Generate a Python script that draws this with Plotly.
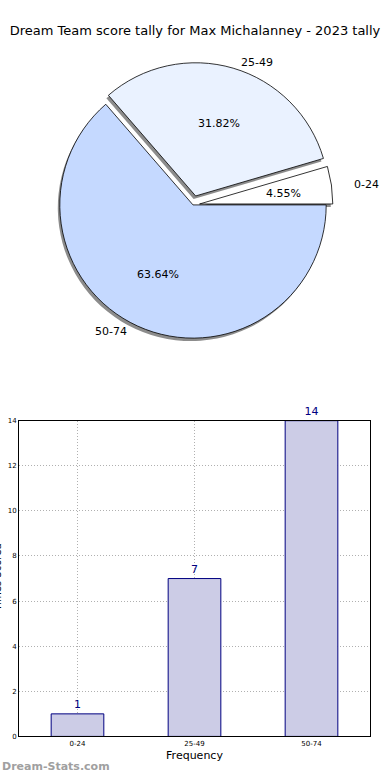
import math
import plotly.graph_objects as go

# ---- data ----
categories = ["0-24", "25-49", "50-74"]
counts = [1, 7, 14]
pie_colors = ["#FFFFFF", "#EAF2FF", "#C5D9FF"]
pie_pull = [0.05, 0.07, 0.0]
y_ticks = [0, 2, 4, 6, 8, 10, 12, 14]
title_text = "Dream Team score tally for Max Michalanney - 2023 tally"

W, H = 390, 780
FONT = "DejaVu Sans"


def px_domain(cx, cy, half):
    return dict(x=[(cx - half) / W, (cx + half) / W],
                y=[1 - (cy + half) / H, 1 - (cy - half) / H])


# pie drawn clockwise from 3 o'clock with reversed order == ccw from east
lab_r = categories[::-1]
val_r = counts[::-1]
col_r = pie_colors[::-1]
pull_r = pie_pull[::-1]

cx, cy, half = 193, 203, 144
common = dict(labels=lab_r, values=val_r, pull=pull_r, sort=False,
              direction="clockwise", rotation=90, showlegend=False,
              textinfo="none")

fig = go.Figure()

# shadow
fig.add_trace(go.Pie(**common,
                     marker=dict(colors=["rgba(120,120,120,0.85)"] * 3, line=dict(width=0)),
                     hoverinfo="skip",
                     domain=px_domain(cx - 2, cy + 3, half)))
# main pie
fig.add_trace(go.Pie(**common,
                     marker=dict(colors=col_r, line=dict(color="black", width=0.8)),
                     domain=px_domain(cx, cy, half)))

# text labels placed from the slice angles (percent at 0.6 r, label at 1.1 r)
rx, ry = 140, 128
total = sum(counts)
annotations = []
start = 0.0
for cat, v, pull in zip(categories, counts, pie_pull):
    span = 360.0 * v / total
    mid = math.radians(start + span / 2)
    c, s = math.cos(mid), math.sin(mid)
    ox, oy = cx + pull * rx * c, cy - pull * ry * s
    px_, py_ = ox + 0.6 * rx * c, oy - 0.6 * ry * s
    lx, ly = ox + 1.1 * rx * c, oy - 1.1 * ry * s
    annotations.append(dict(text=f"{100 * v / total:.2f}%", x=px_ / W, y=1 - py_ / H,
                            xanchor="center", yanchor="middle", xref="paper", yref="paper",
                            showarrow=False, font=dict(family=FONT, size=11, color="black")))
    annotations.append(dict(text=cat, x=lx / W, y=1 - ly / H,
                            xanchor="left" if c > 0 else "right", yanchor="middle",
                            xref="paper", yref="paper", showarrow=False,
                            font=dict(family=FONT, size=11, color="black")))
    start += span

# bar chart
fig.add_trace(go.Bar(x=categories, y=counts, width=0.45,
                     marker=dict(color="rgb(204,204,230)", line=dict(color="#000080", width=1)),
                     text=counts, textposition="outside", cliponaxis=False,
                     textfont=dict(family=FONT, size=11, color="#000080"),
                     showlegend=False, xaxis="x", yaxis="y"))

axis_common = dict(showgrid=True, gridcolor="#b0b0b0", griddash="1px,2px", gridwidth=1,
                   showline=True, mirror=True, linecolor="black", linewidth=1,
                   zeroline=False, tickfont=dict(family=FONT, size=7, color="black"))

annotations += [
    dict(text="Times Scored", textangle=-90, x=5 / W, xanchor="right",
         y=1 - 580 / H, yanchor="middle", xref="paper", yref="paper",
         showarrow=False, font=dict(family=FONT, size=10, color="black")),
    dict(text="<b>Dream-Stats.com</b>", x=0, xanchor="left", y=1 - 770 / H,
         yanchor="middle", xref="paper", yref="paper", showarrow=False,
         font=dict(family=FONT, size=11, color="#a0a0a0")),
]

fig.update_layout(
    width=W, height=H,
    margin=dict(l=0, r=0, t=0, b=0),
    paper_bgcolor="white", plot_bgcolor="white",
    font=dict(family=FONT, color="black"),
    title=dict(text=title_text, x=0.5, xanchor="center", y=1 - 30 / H, yanchor="middle",
               font=dict(family=FONT, size=13, color="black")),
    xaxis=dict(domain=[19 / W, 370 / W], anchor="y", range=[-0.5, 2.5],
               title=dict(text="Frequency", font=dict(family=FONT, size=11), standoff=4),
               **axis_common),
    yaxis=dict(domain=[1 - 740 / H, 1 - 421 / H], anchor="x", range=[0, 14],
               tickvals=y_ticks, **axis_common),
    annotations=annotations,
)

post = (
    "document.documentElement.style.margin='0';"
    "document.documentElement.style.padding='0';"
    "document.documentElement.style.overflow='hidden';"
    "document.body.style.margin='0';"
    "document.body.style.padding='0';"
    "document.body.style.overflow='hidden';"
    "document.body.style.height='780px';"
    "var gd=document.getElementById('{plot_id}');"
    "gd.style.display='block';"
    "if(gd.parentElement){gd.parentElement.style.height='780px';gd.parentElement.style.overflow='hidden';}"
)

fig.write_html("out.html", config={"displayModeBar": False}, post_script=post)
